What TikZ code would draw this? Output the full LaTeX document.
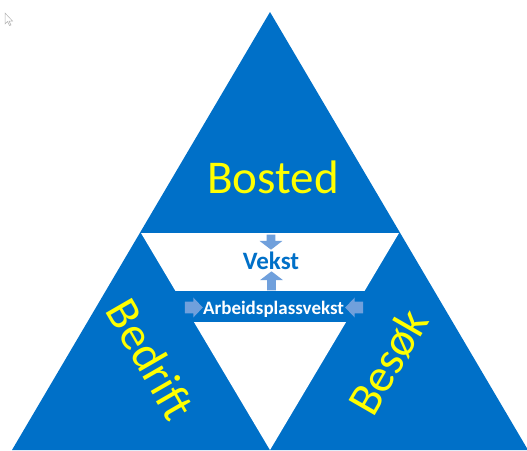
\documentclass[tikz,border=0pt]{standalone}
\usepackage{fontspec}
\setmainfont{Carlito}
\usetikzlibrary{shapes.arrows}
\definecolor{mainblue}{RGB}{0,112,200}
\definecolor{textyellow}{RGB}{255,255,0}
\definecolor{arrowblue}{RGB}{112,160,220}
\tikzset{every picture/.style={line width=0.75pt}}

\begin{document}
\begin{tikzpicture}[x=1pt,y=1pt,yscale=-1,xscale=1,
  bigword/.style={text=textyellow, inner sep=0pt, font=\fontsize{47}{56}\selectfont},
  blockarrow/.style={single arrow, fill=arrowblue, draw=none, inner sep=4pt,
    minimum width=22, single arrow head extend=7pt, single arrow tip angle=105},
  sidearrow/.style={single arrow, fill=arrowblue, draw=none, inner sep=5.5pt,
    minimum width=19, minimum height=18, single arrow head extend=4pt, single arrow tip angle=93}]
\useasboundingbox (0,0) rectangle (527,450);

%Shape: outer triangle
\fill[mainblue] (270,12) -- (12,450) -- (528,450) -- cycle ;
%Shape: inner inverted triangle
\fill[white] (141,233) -- (399,233) -- (270,450) -- cycle ;
%Shape: bar
\fill[mainblue] (175,291) rectangle (365,322) ;

%Shape: cursor
\draw[gray!60, line width=0.5pt, fill=white] (5,13) -- (5,24) -- (7.5,21.5) -- (9.5,25.5) -- (11,25) -- (9,21) -- (12.5,21) -- cycle ;

%Block arrows
\node[blockarrow, minimum height=15, shape border rotate=270] (arrDown) at (271,240.5) {};
\node[blockarrow, minimum height=19, shape border rotate=90] (arrUp) at (271.5,282.5) {};
\node[sidearrow] (arrRight) at (191,307.5) {};
\node[sidearrow, shape border rotate=180] (arrLeft) at (357,307.5) {};

% Text Node
\node[bigword, anchor=base] (bosted) at (273,193) {Bosted};
% Text Node
\node[text=mainblue, anchor=base, inner sep=0pt, font=\fontsize{25}{30}\selectfont\bfseries] (vekst) at (271,269) {Vekst};
% Text Node
\node[text=white, anchor=base, inner sep=0pt, font=\fontsize{19}{23}\selectfont\bfseries] (apvekst) at (273.5,314.3) {Arbeidsplassvekst};
% Text Node
\node[bigword, rotate=-60] (bedrift) at (151,359) {Bedrift};
% Text Node
\node[bigword, rotate=60] (besok) at (388,362) {Besøk};

\end{tikzpicture}
\end{document}
